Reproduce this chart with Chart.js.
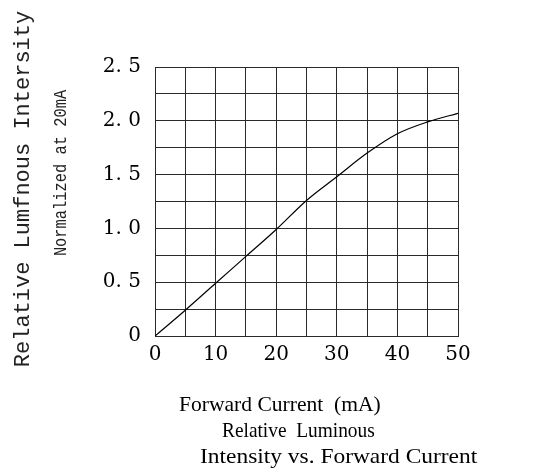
<!DOCTYPE html>
<html>
<head>
<meta charset="utf-8">
<script src="https://cdn.jsdelivr.net/npm/chart.js@4/dist/chart.umd.min.js"></script>
<style>
  html, body { margin: 0; padding: 0; background: #fff; }
  #wrap { width: 541px; height: 473px; }
</style>
</head>
<body>
<div id="wrap"><canvas id="chart"></canvas></div>
<script>
// forward current (mA) vs relative luminous intensity
var current = [0, 5, 10, 15, 20, 25, 30, 35, 40, 45, 50]
var intensity = [0, 0.24, 0.49, 0.74, 0.99, 1.26, 1.48, 1.70, 1.88, 1.99, 2.07]

var xTickLabels = ['0', '10', '20', '30', '40', '50']
var yTickLabels = ['0', '0. 5', '1. 0', '1. 5', '2. 0', '2. 5']

var yTitle = 'Relative Lumfnous Intersity'
var ySubTitle = 'Normalized at 20mA'
var xTitle = 'Forward Current  (mA)'
var captionLines = ['Relative  Luminous', 'Intensity vs. Forward Current']

var gridColor = '#2a2a2a'

function drawLine(ctx, text, x, y, sx) {
    ctx.save()
    ctx.translate(x, y)
    ctx.scale(sx, 1)
    ctx.fillText(text, 0, 0)
    ctx.restore()
}

// extra texts: rotated y titles and the caption under the x axis
var textPlugin = {
    id: 'texts',
    afterDraw: function (chart) {
        var ctx = chart.ctx
        ctx.save()
        ctx.fillStyle = '#000'
        ctx.textAlign = 'center'
        ctx.textBaseline = 'middle'

        ctx.save()
        ctx.translate(23, 189)
        ctx.rotate(-Math.PI / 2)
        ctx.fillStyle = '#222'
        ctx.font = '22px "Liberation Mono", "DejaVu Sans Mono", monospace'
        ctx.fillText(yTitle, 0, 0)
        ctx.restore()

        ctx.save()
        ctx.translate(61, 173)
        ctx.rotate(-Math.PI / 2)
        ctx.scale(0.81, 1)
        ctx.fillStyle = '#222'
        ctx.font = '19px "Liberation Mono", "DejaVu Sans Mono", monospace'
        ctx.fillText(ySubTitle, 0, 0)
        ctx.restore()

        ctx.textAlign = 'left'
        ctx.font = '22px "Liberation Serif", "DejaVu Serif", serif'
        drawLine(ctx, xTitle, 179, 405, 0.98)
        drawLine(ctx, captionLines[0], 222, 431, 0.88)
        drawLine(ctx, captionLines[1], 200, 457, 1.065)
        ctx.restore()
    }
}

new Chart(document.getElementById('chart'), {
    type: 'line',
    data: {
        datasets: [
        {
            data: current.map(function (c, i) { return { x: c, y: intensity[i] } }),
            borderColor: '#000',
            borderWidth: 1.2,
            pointRadius: 0,
            fill: false,
            cubicInterpolationMode: 'monotone'
        }
        ]
    },
    options: {
        responsive: true,
        maintainAspectRatio: false,
        animation: false,
        layout: { padding: { left: 0, right: 83, top: 67, bottom: 0 } },
        plugins: {
            legend: { display: false },
            tooltip: { enabled: false }
        },
        scales: {
            x: {
                type: 'linear',
                min: 0,
                max: 50,
                afterFit: function (scale) { scale.height = 137 },
                border: { color: gridColor, width: 1 },
                grid: { color: gridColor, lineWidth: 1, drawTicks: false },
                ticks: {
                    stepSize: 5,
                    autoSkip: false,
                    maxRotation: 0,
                    padding: 7,
                    color: '#000',
                    font: { family: '"DejaVu Serif", serif', size: 20 },
                    callback: function (v) {
                        return v % 10 === 0 ? xTickLabels[v / 10] : ''
                    }
                }
            },
            y: {
                min: 0,
                max: 2.5,
                afterFit: function (scale) { scale.width = 155 },
                border: { color: gridColor, width: 1 },
                grid: { color: gridColor, lineWidth: 1, drawTicks: false },
                ticks: {
                    stepSize: 0.25,
                    autoSkip: false,
                    padding: 14,
                    color: '#000',
                    font: { family: '"DejaVu Serif", serif', size: 20 },
                    callback: function (v) {
                        var k = Math.round(v * 2)
                        return Math.abs(v * 2 - k) < 1e-6 ? yTickLabels[k] : ''
                    }
                }
            }
        }
    },
    plugins: [textPlugin]
})
</script>
</body>
</html>
